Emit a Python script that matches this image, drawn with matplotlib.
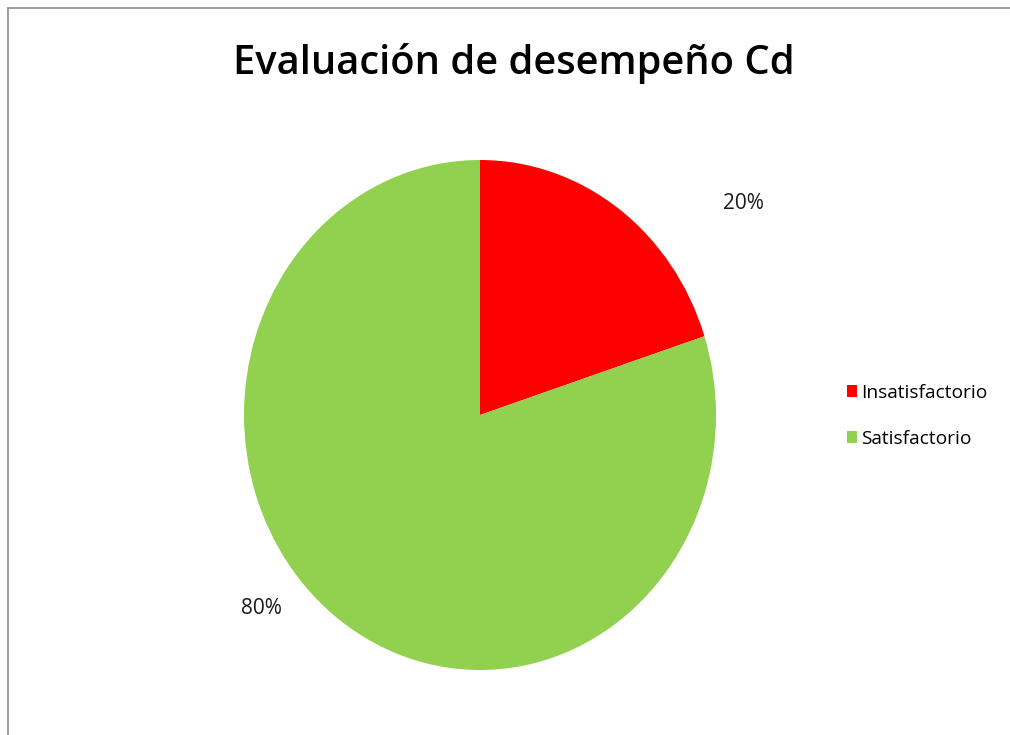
import matplotlib.pyplot as plt
from matplotlib.lines import Line2D

categorias = ['Insatisfactorio', 'Satisfactorio']
valores = [20, 80]
colores = ['#FF0000', '#92D050']

W, H = 1010, 735
fig = plt.figure(figsize=(W / 100, H / 100), dpi=100)
fig.patch.set_facecolor('white')

# chart frame: only top and left edges show
fig.add_artist(Line2D([8 / W, 8 / W], [0, 1 - 8 / H], color='#8c8c8c', lw=1.2, transform=fig.transFigure))
fig.add_artist(Line2D([8 / W, 1], [1 - 8 / H, 1 - 8 / H], color='#8c8c8c', lw=1.2, transform=fig.transFigure))

# pie area (slightly stretched vertically)
cx, cy, rx, ry = 480, 415, 236, 255
ax = fig.add_axes([(cx - rx) / W, 1 - (cy + ry) / H, 2 * rx / W, 2 * ry / H])
wedges, _ = ax.pie(valores, colors=colores, startangle=90, counterclock=False,
                   radius=1, wedgeprops=dict(linewidth=0))
ax.set_aspect('auto')
ax.set_xlim(-1, 1)
ax.set_ylim(-1, 1)
ax.axis('off')

total = sum(valores)
pos_etiquetas = [(1.115, 0.83), (-0.924, -0.76)]
for v, (x, y) in zip(valores, pos_etiquetas):
    ax.text(x, y, f'{v / total:.0%}', ha='center', va='center',
            fontsize=15, family='Open Sans', color='#1a1a1a')

fig.text(514 / W, 1 - 64 / H, 'Evaluación de desempeño Cd', ha='center', va='center',
         fontsize=28.7, fontweight='semibold', family='Open Sans', color='black')

fig.legend(wedges, categorias, loc='upper left', bbox_to_anchor=(847 / W, 1 - 384 / H),
           frameon=False, prop=dict(family='Open Sans', size=13.8),
           handlelength=0.5, handleheight=0.6, handletextpad=0.25, labelspacing=1.45,
           borderpad=0, borderaxespad=0)

fig.savefig('out.png', dpi=100, facecolor='white')
